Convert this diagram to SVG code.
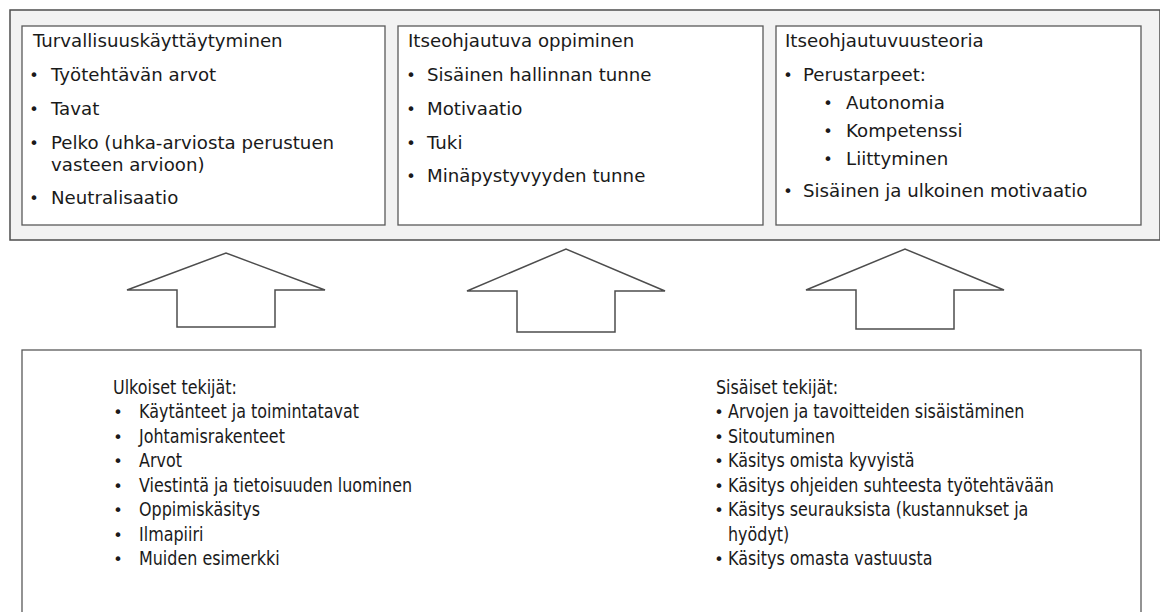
<svg xmlns="http://www.w3.org/2000/svg" width="1160" height="612" viewBox="0 0 1160 612">
  <style>
    .panel { fill: #f2f2f2; stroke: #4d4d4d; stroke-width: 1.5; }
    .box { fill: #ffffff; stroke: #595959; stroke-width: 1.3; }
    .arrow { fill: #ffffff; stroke: #4d4d4d; stroke-width: 1.5; stroke-linejoin: miter; }
    .t { font-family: "DejaVu Sans", Verdana, sans-serif; font-size: 18.2px; fill: #1a1a1a; }
    .b { font-family: "DejaVu Sans", Verdana, sans-serif; font-size: 19px; fill: #1a1a1a; }
    .dot { font-family: "DejaVu Sans", sans-serif; font-size: 16px; fill: #1a1a1a; text-anchor: middle; }
  </style>

  <!-- top panel holding the three theory boxes -->
  <rect class="panel" x="10" y="10" width="1150" height="230"/>

  <g id="turvallisuus">
    <rect class="box" x="22" y="26" width="363" height="199"/>
    <text class="t" x="33" y="47">Turvallisuuskäyttäytyminen</text>
    <text class="dot" x="34" y="81">•</text>
    <text class="t" x="51" y="81">Työtehtävän arvot</text>
    <text class="dot" x="34" y="115">•</text>
    <text class="t" x="51" y="115">Tavat</text>
    <text class="dot" x="34" y="149">•</text>
    <text class="t" x="51" y="149">Pelko (uhka-arviosta perustuen</text>
    <text class="t" x="51" y="171">vasteen arvioon)</text>
    <text class="dot" x="34" y="204">•</text>
    <text class="t" x="51" y="204">Neutralisaatio</text>
  </g>

  <g id="itseohjautuva-oppiminen">
    <rect class="box" x="398" y="26" width="365" height="199"/>
    <text class="t" x="408" y="47">Itseohjautuva oppiminen</text>
    <text class="dot" x="411" y="81">•</text>
    <text class="t" x="427" y="81">Sisäinen hallinnan tunne</text>
    <text class="dot" x="411" y="115">•</text>
    <text class="t" x="427" y="115">Motivaatio</text>
    <text class="dot" x="411" y="149">•</text>
    <text class="t" x="427" y="149">Tuki</text>
    <text class="dot" x="411" y="182">•</text>
    <text class="t" x="427" y="182">Minäpystyvyyden tunne</text>
  </g>

  <g id="itseohjautuvuusteoria">
    <rect class="box" x="776" y="26" width="365" height="199"/>
    <text class="t" x="785" y="47">Itseohjautuvuusteoria</text>
    <text class="dot" x="788" y="81">•</text>
    <text class="t" x="803" y="81">Perustarpeet:</text>
    <text class="dot" x="828" y="109">•</text>
    <text class="t" x="846" y="109">Autonomia</text>
    <text class="dot" x="828" y="137">•</text>
    <text class="t" x="846" y="137">Kompetenssi</text>
    <text class="dot" x="828" y="165">•</text>
    <text class="t" x="846" y="165">Liittyminen</text>
    <text class="dot" x="788" y="197">•</text>
    <text class="t" x="803" y="197">Sisäinen ja ulkoinen motivaatio</text>
  </g>

  <!-- block arrows pointing up from the factors to the theories -->
  <g id="connectors">
    <polygon class="arrow" points="127,290 226,253 325,290 275,290 275,327 177,327 177,290"/>
    <polygon class="arrow" points="467,291 566,249 665,291 615,291 615,332 517,332 517,291"/>
    <polygon class="arrow" points="806,290 905,249 1004,290 954,290 954,329 856,329 856,290"/>
  </g>

  <g id="tekijat">
    <rect class="box" x="22" y="350" width="1119" height="280"/>
  </g>

  <g id="ulkoiset">
    <text class="dot" x="118" y="418">•</text>
    <text class="dot" x="118" y="443">•</text>
    <text class="dot" x="118" y="467">•</text>
    <text class="dot" x="118" y="492">•</text>
    <text class="dot" x="118" y="516">•</text>
    <text class="dot" x="118" y="541">•</text>
    <text class="dot" x="118" y="565">•</text>
    <g transform="translate(113,0) scale(0.84,1)">
      <text class="b" x="0" y="394">Ulkoiset tekijät:</text>
    </g>
    <g transform="translate(139,0) scale(0.84,1)">
      <text class="b" x="0" y="418">Käytänteet ja toimintatavat</text>
      <text class="b" x="0" y="443">Johtamisrakenteet</text>
      <text class="b" x="0" y="467">Arvot</text>
      <text class="b" x="0" y="492">Viestintä ja tietoisuuden luominen</text>
      <text class="b" x="0" y="516">Oppimiskäsitys</text>
      <text class="b" x="0" y="541">Ilmapiiri</text>
      <text class="b" x="0" y="565">Muiden esimerkki</text>
    </g>
  </g>

  <g id="sisaiset">
    <text class="dot" x="719" y="418">•</text>
    <text class="dot" x="719" y="443">•</text>
    <text class="dot" x="719" y="467">•</text>
    <text class="dot" x="719" y="492">•</text>
    <text class="dot" x="719" y="516">•</text>
    <text class="dot" x="719" y="565">•</text>
    <g transform="translate(716,0) scale(0.84,1)">
      <text class="b" x="0" y="394">Sisäiset tekijät:</text>
    </g>
    <g transform="translate(728,0) scale(0.84,1)">
      <text class="b" x="0" y="418">Arvojen ja tavoitteiden sisäistäminen</text>
      <text class="b" x="0" y="443">Sitoutuminen</text>
      <text class="b" x="0" y="467">Käsitys omista kyvyistä</text>
      <text class="b" x="0" y="492">Käsitys ohjeiden suhteesta työtehtävään</text>
      <text class="b" x="0" y="516">Käsitys seurauksista (kustannukset ja</text>
      <text class="b" x="0" y="541">hyödyt)</text>
      <text class="b" x="0" y="565">Käsitys omasta vastuusta</text>
    </g>
  </g>
</svg>
